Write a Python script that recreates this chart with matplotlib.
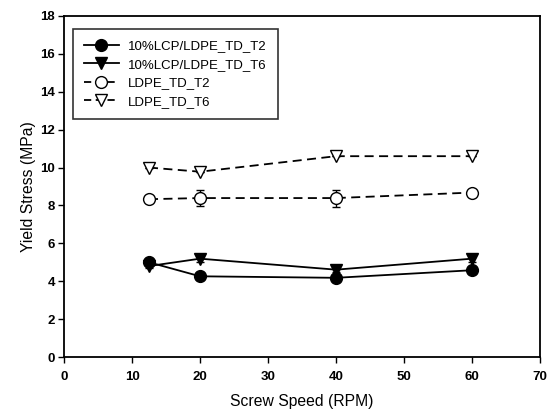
import matplotlib
matplotlib.use("Agg")
import matplotlib.pyplot as plt
from matplotlib.lines import Line2D

plt.rcParams['font.family'] = ['Liberation Sans', 'DejaVu Sans']

speed = [12.5, 20, 40, 60]
lcp_t2 = [5.0, 4.26, 4.18, 4.58]
lcp_t2_err = [0.1, 0.12, 0.12, 0.12]
lcp_t6 = [4.8, 5.19, 4.61, 5.19]
lcp_t6_err = [0.1, 0.15, 0.12, 0.15]
ldpe_t2 = [8.33, 8.39, 8.39, 8.68]
ldpe_t2_err = [0.0, 0.44, 0.45, 0.0]
ldpe_t6 = [10.0, 9.78, 10.6, 10.6]
ldpe_t6_err = [0.0, 0.0, 0.0, 0.0]
labels = ['10%LCP/LDPE_TD_T2', '10%LCP/LDPE_TD_T6', 'LDPE_TD_T2', 'LDPE_TD_T6']

fig = plt.figure(figsize=(5.52, 4.19), dpi=100)
L, R, T, B = 64, 540, 16, 357
ax = fig.add_axes([L / 552, 1 - B / 419, (R - L) / 552, (B - T) / 419])

lw = 1.3
ms = 8.5
dash = (5, 3)
common = dict(color='black', lw=lw, ms=ms, capsize=3, elinewidth=1.0, capthick=1.0)
ax.errorbar(speed, lcp_t2, yerr=lcp_t2_err, fmt='-o', mfc='black', mec='black', **common)
ax.errorbar(speed, lcp_t6, yerr=lcp_t6_err, fmt='-v', mfc='black', mec='black', **common)
ax.errorbar(speed, ldpe_t2, yerr=ldpe_t2_err, fmt='--o', mfc='white', mec='black',
            dashes=dash, **common)
ax.errorbar(speed, ldpe_t6, yerr=ldpe_t6_err, fmt='--v', mfc='white', mec='black',
            dashes=dash, **common)

handles = [
    Line2D([], [], color='black', lw=lw, marker='o', ms=ms, mfc='black'),
    Line2D([], [], color='black', lw=lw, marker='v', ms=ms, mfc='black'),
    Line2D([], [], color='black', lw=lw, marker='o', ms=ms, mfc='white', dashes=(4, 2.5)),
    Line2D([], [], color='black', lw=lw, marker='v', ms=ms, mfc='white', dashes=(4, 2.5)),
]

ax.set_xlim(0, 70)
ax.set_ylim(0, 18)
ax.set_xticks(range(0, 71, 10))
ax.set_yticks(range(0, 19, 2))
ax.tick_params(direction='out', length=4, width=1, labelsize=9.5, pad=2.5, top=False, right=False)
ax.tick_params(axis='x', pad=6)
for lbl in ax.get_xticklabels() + ax.get_yticklabels():
    lbl.set_fontweight('bold')
for s in ax.spines.values():
    s.set_linewidth(1.3)

ax.set_xlabel('Screw Speed (RPM)', fontsize=11.3, labelpad=8)
ax.set_ylabel('Yield Stress (MPa)', fontsize=11.3, labelpad=3)

leg = ax.legend(handles, labels, loc='upper left', bbox_to_anchor=(9 / 476, 1 - 13 / 341),
                borderaxespad=0, fontsize=9.5, frameon=True, fancybox=False,
                edgecolor='black', handlelength=2.6, borderpad=0.85, labelspacing=0.47,
                handletextpad=0.7)
leg.get_frame().set_linewidth(1.2)

fig.savefig('out.png', dpi=100)
